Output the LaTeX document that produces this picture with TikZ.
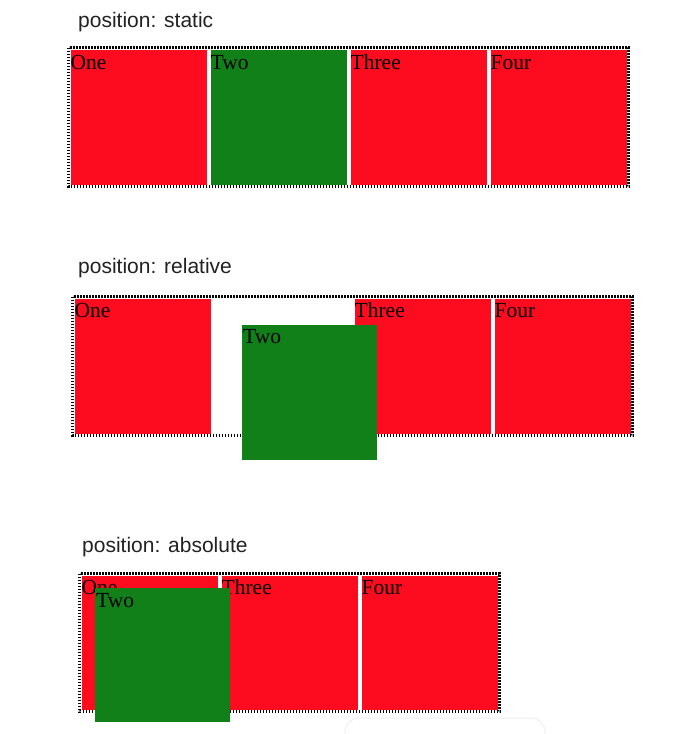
\documentclass[tikz,border=0pt]{standalone}
\usepackage{fontspec}
\setmainfont{Liberation Serif}
\newfontfamily\titlefont{Liberation Sans}
\definecolor{boxred}{RGB}{252,12,30}
\definecolor{boxgreen}{RGB}{18,128,24}
\definecolor{titlegray}{RGB}{34,34,34}
\begin{document}
\begin{tikzpicture}[x=1pt,y=-1pt,
  container/.style={draw=black,line width=3pt,dash pattern=on 1.6pt off 1.4pt},
  redbox/.style={fill=boxred,draw=none,inner sep=0,anchor=north west,minimum width=136pt,minimum height=135pt},
  greenbox/.style={fill=boxgreen,draw=none,inner sep=0,anchor=north west,minimum width=135pt,minimum height=135pt},
  boxlabel/.style={anchor=base west,inner sep=0,font=\fontsize{21.5}{24}\selectfont,text=black},
  title/.style={anchor=base west,inner sep=0,font=\titlefont\fontsize{21}{24}\selectfont,text=titlegray}]
\useasboundingbox (0,0) rectangle (674,734);
\fill[white] (0,0) rectangle (674,734);
% ---- static
\node[title] (t1) at (78,27) {position: static};
\draw[container] (68.5,47.5) rectangle (628.5,186.5);
\node[redbox] (s1) at (70.5,49.5) {};
\node[greenbox,minimum width=136pt] (s2) at (210.5,49.5) {};
\node[redbox] (s3) at (350.5,49.5) {};
\node[redbox] (s4) at (490.5,49.5) {};
\node[boxlabel] (s1l) at ([shift={(0,19.5)}]s1.north west) {One};
\node[boxlabel] (s2l) at ([shift={(0,19.5)}]s2.north west) {Two};
\node[boxlabel] (s3l) at ([shift={(0,19.5)}]s3.north west) {Three};
\node[boxlabel] (s4l) at ([shift={(0,19.5)}]s4.north west) {Four};
% ---- relative
\node[title] (t2) at (78,273) {position: relative};
\draw[container] (72.5,296.5) rectangle (632.5,435.5);
\node[redbox] (r1) at (74.5,298.5) {};
\node[redbox] (r3) at (354.5,298.5) {};
\node[redbox] (r4) at (494.5,298.5) {};
\node[greenbox] (r2) at (242,325) {};
\node[boxlabel] (r1l) at ([shift={(0,19)}]r1.north west) {One};
\node[boxlabel] (r3l) at ([shift={(0,19)}]r3.north west) {Three};
\node[boxlabel] (r4l) at ([shift={(0,19)}]r4.north west) {Four};
\node[boxlabel] (r2l) at ([shift={(1,18.5)}]r2.north west) {Two};
% ---- absolute
\node[title] (t3) at (82,552) {position: absolute};
\draw[container] (79.5,573.5) rectangle (499.5,711.5);
\node[redbox,minimum height=134pt] (a1) at (81.5,575.5) {};
\node[redbox,minimum height=134pt] (a3) at (221.5,575.5) {};
\node[redbox,minimum height=134pt] (a4) at (361.5,575.5) {};
\node[boxlabel] (a1l) at ([shift={(0,18.5)}]a1.north west) {One};
\node[boxlabel] (a3l) at ([shift={(0,18.5)}]a3.north west) {Three};
\node[boxlabel] (a4l) at ([shift={(0,18.5)}]a4.north west) {Four};
\node[greenbox,minimum height=134pt] (a2) at (95,588) {};
\node[boxlabel] (a2l) at ([shift={(1,19)}]a2.north west) {Two};
% faint overlay edge
\draw[black!6,line width=1pt,rounded corners=14pt] (345,740) -- (345,718) -- (545,718) -- (545,740);
\end{tikzpicture}
\end{document}
